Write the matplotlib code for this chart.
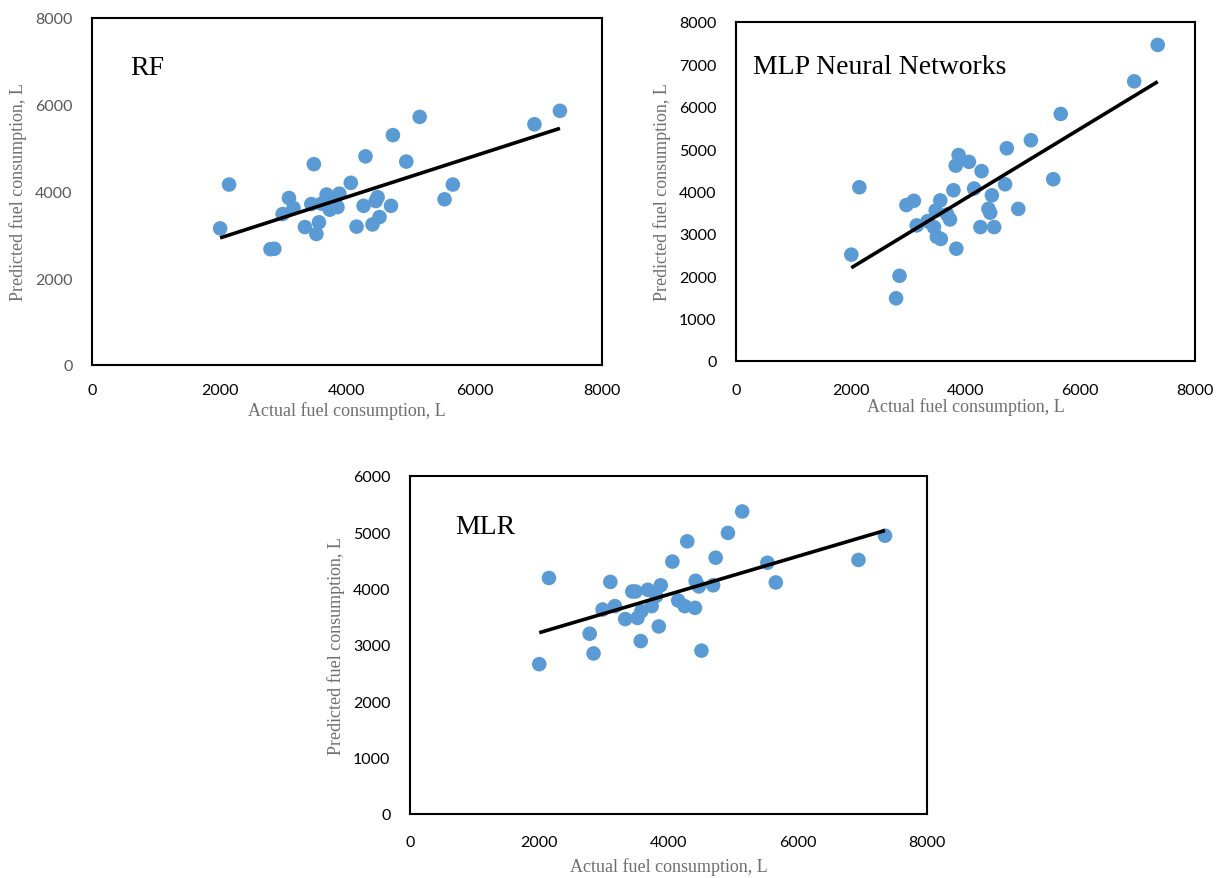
import numpy as np
import matplotlib
matplotlib.use("Agg")
import matplotlib.pyplot as plt

# ---------------- data ----------------
rf_actual = [2010, 2150, 2800, 2860, 2990, 3090, 3160, 3340, 3480, 3440, 3520, 3560,
             3680, 3730, 3850, 3880, 4060, 4150, 4260, 4290, 4400, 4450, 4480, 4510,
             4690, 4720, 4930, 5140, 5530, 5660, 6940, 7340, 3600, 3800, 3820]
rf_pred = [3150, 4160, 2670, 2680, 3480, 3850, 3620, 3180, 4630, 3710, 3020, 3290,
           3930, 3580, 3640, 3950, 4200, 3190, 3670, 4810, 3240, 3780, 3870, 3410,
           3670, 5300, 4690, 5720, 3820, 4160, 5550, 5860, 3720, 3760, 3700]

mlp_actual = [2010, 2150, 2790, 2850, 2970, 3100, 3150, 3340, 3450, 3480, 3500, 3570,
              3560, 3680, 3730, 3790, 3840, 3830, 3880, 4060, 4150, 4260, 4280, 4400,
              4430, 4460, 4500, 4690, 4720, 4920, 5140, 5530, 5660, 6940, 7350]
mlp_pred = [2510, 4100, 1480, 2010, 3680, 3780, 3200, 3300, 3160, 3550, 2930, 2880,
            3790, 3460, 3340, 4030, 2650, 4610, 4860, 4700, 4070, 3160, 4480, 3590,
            3500, 3910, 3160, 4170, 5020, 3590, 5210, 4290, 5830, 6600, 7460]

mlr_actual = [2000, 2150, 2780, 2840, 2980, 3100, 3170, 3330, 3440, 3490, 3520, 3570,
              3580, 3680, 3740, 3810, 3850, 3880, 4060, 4150, 4250, 4290, 4410, 4420,
              4470, 4510, 4690, 4730, 4920, 5140, 5530, 5660, 6940, 7350]
mlr_pred = [2660, 4190, 3200, 2850, 3630, 4120, 3690, 3460, 3950, 3950, 3480, 3070,
            3600, 3980, 3690, 3870, 3330, 4060, 4480, 3790, 3690, 4840, 3660, 4140,
            4040, 2900, 4060, 4550, 4990, 5370, 4460, 4110, 4510, 4940]

panel_titles = ["RF", "MLP Neural Networks", "MLR"]
x_ticks = [0, 2000, 4000, 6000, 8000]
rf_yticks = [0, 2000, 4000, 6000, 8000]
mlp_yticks = [0, 1000, 2000, 3000, 4000, 5000, 6000, 7000, 8000]
mlr_yticks = [0, 1000, 2000, 3000, 4000, 5000, 6000]

xlabel = "Actual fuel consumption, L"
ylabel = "Predicted fuel consumption, L"

# ---------------- style ----------------
W, H = 1225, 879
fig = plt.figure(figsize=(W / 100, H / 100), dpi=100)
fig.patch.set_facecolor("white")

DOT = "#5B9BD5"
GRAY = "#595959"
LABEL_GRAY = "#6f6f6f"
TICK_FONT = "Lato"
SERIF = "Liberation Serif"


def px_axes(left, top, right, bottom):
    return fig.add_axes([left / W, (H - bottom) / H, (right - left) / W, (bottom - top) / H])


def draw(ax, xs, ys, yticks, title, title_pos, xtick_color, ytick_color, xpad, ypad, xlabelpad):
    xs = np.asarray(xs, float)
    ys = np.asarray(ys, float)
    ax.scatter(xs, ys, s=110, color=DOT, edgecolors="none", zorder=2)
    k, b = np.polyfit(xs, ys, 1)
    xl = np.array([xs.min(), xs.max()])
    ax.plot(xl, k * xl + b, color="black", lw=2.6, solid_capstyle="butt", zorder=3)
    ax.set_xlim(0, 8000)
    ax.set_ylim(0, yticks[-1])
    ax.set_xticks(x_ticks)
    ax.set_yticks(yticks)
    ax.set_xticklabels([str(t) for t in x_ticks], fontfamily=TICK_FONT, fontsize=11.5, color=xtick_color)
    ax.set_yticklabels([str(t) for t in yticks], fontfamily=TICK_FONT, fontsize=11.5, color=ytick_color)
    ax.tick_params(axis="x", length=0, pad=xpad)
    ax.tick_params(axis="y", length=0, pad=ypad)
    for sp in ax.spines.values():
        sp.set_linewidth(1.5)
        sp.set_color("black")
    ax.set_xlabel(xlabel, fontfamily=SERIF, fontsize=13, color=LABEL_GRAY, labelpad=xlabelpad)
    ax.set_ylabel(ylabel, fontfamily=SERIF, fontsize=13, color=LABEL_GRAY, labelpad=6)
    ax.text(title_pos[0], title_pos[1], title, transform=ax.transAxes, fontfamily=SERIF,
            fontsize=20, color="black", va="baseline", ha="left")


ax1 = px_axes(92, 19, 602, 366)
draw(ax1, rf_actual, rf_pred, rf_yticks, panel_titles[0], (0.075, 0.84), "black", GRAY, 13, 14, 3)

ax2 = px_axes(736, 23, 1195, 362)
draw(ax2, mlp_actual, mlp_pred, mlp_yticks, panel_titles[1], (0.038, 0.85), "black", "black", 16, 14, 0)

ax3 = px_axes(410, 477, 927, 815)
draw(ax3, mlr_actual, mlr_pred, mlr_yticks, panel_titles[2], (0.087, 0.83), "black", "black", 15, 14, 6)

fig.savefig("out.png", dpi=100, facecolor="white")
